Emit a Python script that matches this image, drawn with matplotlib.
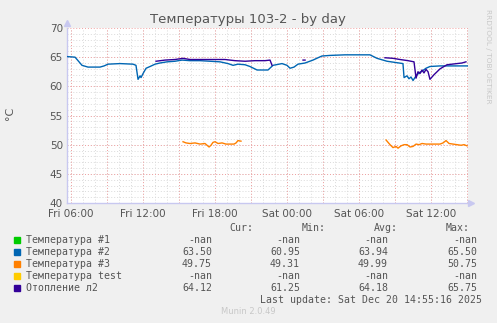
import numpy as np
import matplotlib
matplotlib.use("Agg")
import matplotlib.pyplot as plt

# time in hours since Fri 00:00
t_start = 5.69
t_end = 39.11

# Температура #2
t2 = [5.69, 6.36, 6.61, 6.94, 7.44, 8.44, 8.78, 9.11, 10.11, 11.19, 11.44, 11.61, 11.78, 11.86,
      12.03, 12.28, 12.61, 13.03, 13.44, 14.03, 14.69, 15.28, 15.94, 16.78, 17.61, 18.44, 19.11,
      19.53, 19.94, 20.53, 20.94, 21.53, 22.44, 22.86, 23.61, 24.03, 24.28, 24.61, 24.94, 25.53,
      26.19, 26.61, 26.94, 27.61, 28.86, 30.11, 30.94, 31.53, 32.36, 33.03, 33.69, 33.78, 34.03,
      34.19, 34.36, 34.53, 34.78, 35.03, 35.28, 35.61, 35.94, 36.78, 39.11]
v2 = [65.1, 65.0, 64.4, 63.6, 63.3, 63.3, 63.5, 63.8, 63.9, 63.8, 63.6, 61.2, 61.8, 61.5,
      62.2, 63.1, 63.4, 63.8, 64.0, 64.2, 64.3, 64.5, 64.4, 64.4, 64.3, 64.2, 63.9,
      63.6, 63.8, 63.7, 63.4, 62.8, 62.8, 63.6, 63.9, 63.6, 63.1, 63.3, 63.8, 64.0,
      64.5, 64.9, 65.2, 65.3, 65.4, 65.4, 65.4, 64.8, 64.3, 64.1, 63.9, 61.5, 61.8,
      61.3, 61.6, 61.0, 61.8, 62.3, 62.6, 63.1, 63.4, 63.5, 63.5]

# Температура #3 (two segments, gap = nan)
t3 = [15.36, 15.61, 15.94, 16.36, 16.78, 17.19, 17.36, 17.53, 17.69, 17.86, 18.03, 18.28, 18.61,
      18.94, 19.28, 19.61, 19.78, 19.94, 20.19, 26.0,
      32.28, 32.61, 32.86, 33.11, 33.28, 33.53, 33.78, 34.03, 34.28, 34.53, 34.78, 35.03, 35.28,
      35.61, 35.94, 36.36, 36.78, 37.03, 37.28, 37.53, 37.86, 38.19, 38.53, 38.78, 39.03]
v3 = [50.5, 50.3, 50.2, 50.3, 50.1, 50.2, 49.9, 49.6, 49.9, 50.4, 50.5, 50.2, 50.3,
      50.1, 50.1, 50.1, 50.3, 50.7, 50.6, np.nan,
      50.8, 50.0, 49.5, 49.7, 49.4, 49.8, 50.0, 50.0, 49.6, 49.7, 50.1, 50.0, 50.2,
      50.1, 50.1, 50.1, 50.1, 50.3, 50.7, 50.2, 50.1, 50.0, 49.9, 50.0, 49.8]

# Отопление л2
t5 = [13.11, 13.86, 14.69, 15.36, 15.94, 17.61, 18.86, 19.69, 20.53, 21.36, 22.19, 22.61, 22.78,
      24.0, 25.36, 25.53, 29.0,
      32.19, 32.86, 33.44, 34.11, 34.61, 34.78, 34.94, 35.11, 35.28, 35.44, 35.61, 35.78, 35.94,
      36.28, 36.78, 37.36, 37.78, 38.19, 38.61, 38.94]
v5 = [64.3, 64.5, 64.6, 64.8, 64.6, 64.6, 64.6, 64.4, 64.3, 64.4, 64.4, 64.5, 63.6,
      np.nan, 64.5, 64.5, np.nan,
      64.9, 64.8, 64.6, 64.4, 64.2, 61.4, 62.5, 62.2, 62.8, 62.3, 62.9, 62.5, 61.2,
      62.0, 63.0, 63.7, 63.8, 63.9, 64.0, 64.2]

xtick_pos = [6, 12, 18, 24, 30, 36]
xtick_labels = ["Fri 06:00", "Fri 12:00", "Fri 18:00", "Sat 00:00", "Sat 06:00", "Sat 12:00"]

legend_names = ["Температура #1", "Температура #2", "Температура #3", "Температура test", "Отопление л2"]
legend_colors = ["#00cc00", "#0066b3", "#ff8000", "#ffcc00", "#330099"]
cur_vals = ["-nan", "63.50", "49.75", "-nan", "64.12"]
min_vals = ["-nan", "60.95", "49.31", "-nan", "61.25"]
avg_vals = ["-nan", "63.94", "49.99", "-nan", "64.18"]
max_vals = ["-nan", "65.50", "50.75", "-nan", "65.75"]

W, H = 497, 323
fig = plt.figure(figsize=(W / 100, H / 100), dpi=100, facecolor="#f0f0f0")
ax = fig.add_axes([67 / W, 1 - 203 / H, (468 - 67) / W, (203 - 28) / H])
ax.set_facecolor("white")

# grid: minor grey every hour / degree, major red every 3 hours / 5 degrees
for h in np.arange(6, 40, 1):
    ax.axvline(h, color="#dadada", lw=0.7, ls=(0, (1, 2)), zorder=0)
for y in range(41, 70):
    ax.axhline(y, color="#dadada", lw=0.7, ls=(0, (1, 2)), zorder=0)
for h in np.arange(6, 40, 3):
    ax.axvline(h, color="#f0a0a0", lw=0.7, ls=(0, (1, 2)), zorder=1)
for y in range(40, 71, 5):
    ax.axhline(y, color="#f0a0a0", lw=0.7, ls=(0, (1, 2)), zorder=1)

ax.plot(t2, v2, color=legend_colors[1], lw=1.0, zorder=3)
ax.plot(t3, v3, color=legend_colors[2], lw=1.0, zorder=3)
ax.plot(t5, v5, color=legend_colors[4], lw=1.0, zorder=4)

ax.set_xlim(t_start, t_end)
ax.set_ylim(40, 70)
ax.set_xticks(xtick_pos)
ax.set_xticklabels(xtick_labels)
ax.set_yticks(range(40, 71, 5))
ax.tick_params(length=0, labelsize=7.5, labelcolor="#555555", pad=3)
ax.tick_params(axis="x", pad=4)
for s in ["top", "right"]:
    ax.spines[s].set_visible(False)
for s in ["left", "bottom"]:
    ax.spines[s].set_color("#c8c8f0")
    ax.spines[s].set_linewidth(1.0)
ax.plot([0], [1.03], marker="^", color="#c8c8f0", ms=4, transform=ax.transAxes, clip_on=False)
ax.plot([1.008], [0], marker=">", color="#c8c8f0", ms=4, transform=ax.transAxes, clip_on=False)

fig.text(248 / W, 1 - 20 / H, "Температуры 103-2 - by day", ha="center", va="center",
         fontsize=9.5, color="#555555")
fig.text(10 / W, 1 - 113 / H, "°C", rotation=90, ha="center", va="center", fontsize=8, color="#555555")
fig.text(488 / W, 1 - 56 / H, "RRDTOOL / TOBI OETIKER", rotation=270, ha="center", va="center",
         fontsize=5.3, color="#c8c8c8")

mono = dict(family="DejaVu Sans Mono", fontsize=7.1, color="#555555", va="center")
rows_y = [240, 252, 264, 276, 288]
fig.text(253 / W, 1 - 228 / H, "Cur:", ha="right", **mono)
fig.text(326 / W, 1 - 228 / H, "Min:", ha="right", **mono)
fig.text(398 / W, 1 - 228 / H, "Avg:", ha="right", **mono)
fig.text(470 / W, 1 - 228 / H, "Max:", ha="right", **mono)
for i, name in enumerate(legend_names):
    yy = 1 - rows_y[i] / H
    fig.patches.append(plt.Rectangle((14 / W, yy - 3 / H), 6 / W, 6 / H, color=legend_colors[i],
                                     transform=fig.transFigure, figure=fig))
    fig.text(26 / W, yy, name, ha="left", **mono)
    fig.text(212 / W, yy, cur_vals[i], ha="right", **mono)
    fig.text(300 / W, yy, min_vals[i], ha="right", **mono)
    fig.text(388 / W, yy, avg_vals[i], ha="right", **mono)
    fig.text(477 / W, yy, max_vals[i], ha="right", **mono)
fig.text(482 / W, 1 - 300 / H, "Last update: Sat Dec 20 14:55:16 2025", ha="right", **mono)
fig.text(248 / W, 1 - 311 / H, "Munin 2.0.49", ha="center", va="center", fontsize=6, color="#c8c8c8")

fig.savefig("out.png", dpi=100, facecolor=fig.get_facecolor())
